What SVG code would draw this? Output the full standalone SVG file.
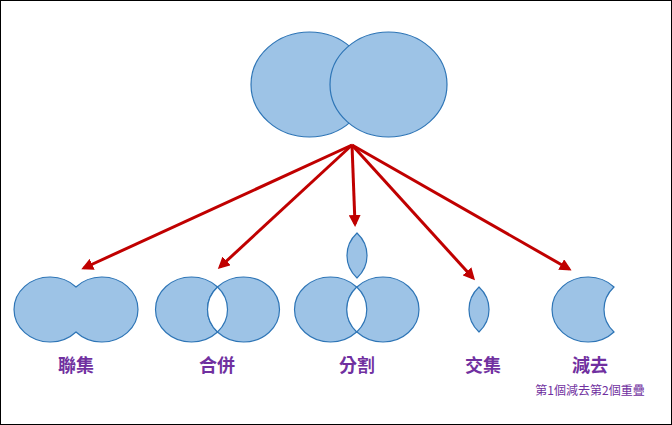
<svg xmlns="http://www.w3.org/2000/svg" width="672" height="425" viewBox="0 0 672 425">
<style>
.s{fill:#9DC3E6;stroke:#2E75B6;stroke-width:1.2}
.w{fill:#fff;stroke:#2E75B6;stroke-width:1.2}
.a{stroke:#C00000;stroke-width:3;fill:none;marker-end:url(#m)}
.t{font-family:"Noto Sans CJK TC","Noto Sans CJK JP",sans-serif;fill:#7030A0;text-anchor:middle}
</style>
<defs><marker id="m" markerWidth="4" markerHeight="4" refX="3" refY="2" orient="auto" markerUnits="strokeWidth"><path d="M0,0L4,2L0,4z" fill="#C00000"/></marker></defs>
<rect x="0.5" y="0.5" width="671" height="424" fill="#fff" stroke="#000"/>
<g id="top"><ellipse class="s" cx="309.5" cy="84.5" rx="58.5" ry="52.5"/><ellipse class="s" cx="388.5" cy="84.5" rx="58.5" ry="52.5"/></g>
<g id="connectors">
<line class="a" x1="352" y1="145" x2="84" y2="268"/>
<line class="a" x1="352" y1="145" x2="220" y2="267"/>
<line class="a" x1="352" y1="145" x2="355" y2="224"/>
<line class="a" x1="352" y1="145" x2="473" y2="278"/>
<line class="a" x1="352" y1="145" x2="569" y2="269"/>
</g>
<g id="union"><path class="s" d="M76,287A36 32.5 0 1 0 76,332A36 32.5 0 1 0 76,287Z"/><text class="t" x="76" y="372" font-size="18" font-weight="bold">聯集</text></g>
<g id="merge"><ellipse class="s" cx="191.5" cy="309.5" rx="36" ry="32.5"/><ellipse class="s" cx="243.5" cy="309.5" rx="36" ry="32.5"/><path class="w" d="M217.5,287A36 32.5 0 0 1 217.5,332A36 32.5 0 0 1 217.5,287Z"/><text class="t" x="217" y="372" font-size="18" font-weight="bold">合併</text></g>
<g id="split"><ellipse class="s" cx="330.5" cy="309.5" rx="36" ry="32.5"/><ellipse class="s" cx="383" cy="309.5" rx="36" ry="32.5"/><path class="w" d="M356.75,287A36 32.5 0 0 1 356.75,332A36 32.5 0 0 1 356.75,287Z"/><path class="s" d="M357,233A36 32.5 0 0 1 357,278A36 32.5 0 0 1 357,233Z"/><text class="t" x="357" y="372" font-size="18" font-weight="bold">分割</text></g>
<g id="intersect"><path class="s" d="M479,287A36 32.5 0 0 1 479,332A36 32.5 0 0 1 479,287Z"/><text class="t" x="483" y="372" font-size="18" font-weight="bold">交集</text></g>
<g id="subtract"><path class="s" d="M614,287A36 32.5 0 1 0 614,332A36 32.5 0 0 1 614,287Z"/><text class="t" x="590" y="372" font-size="18" font-weight="bold">減去</text><text class="t" x="590" y="395" font-size="12">第1個減去第2個重疊</text></g>
</svg>
